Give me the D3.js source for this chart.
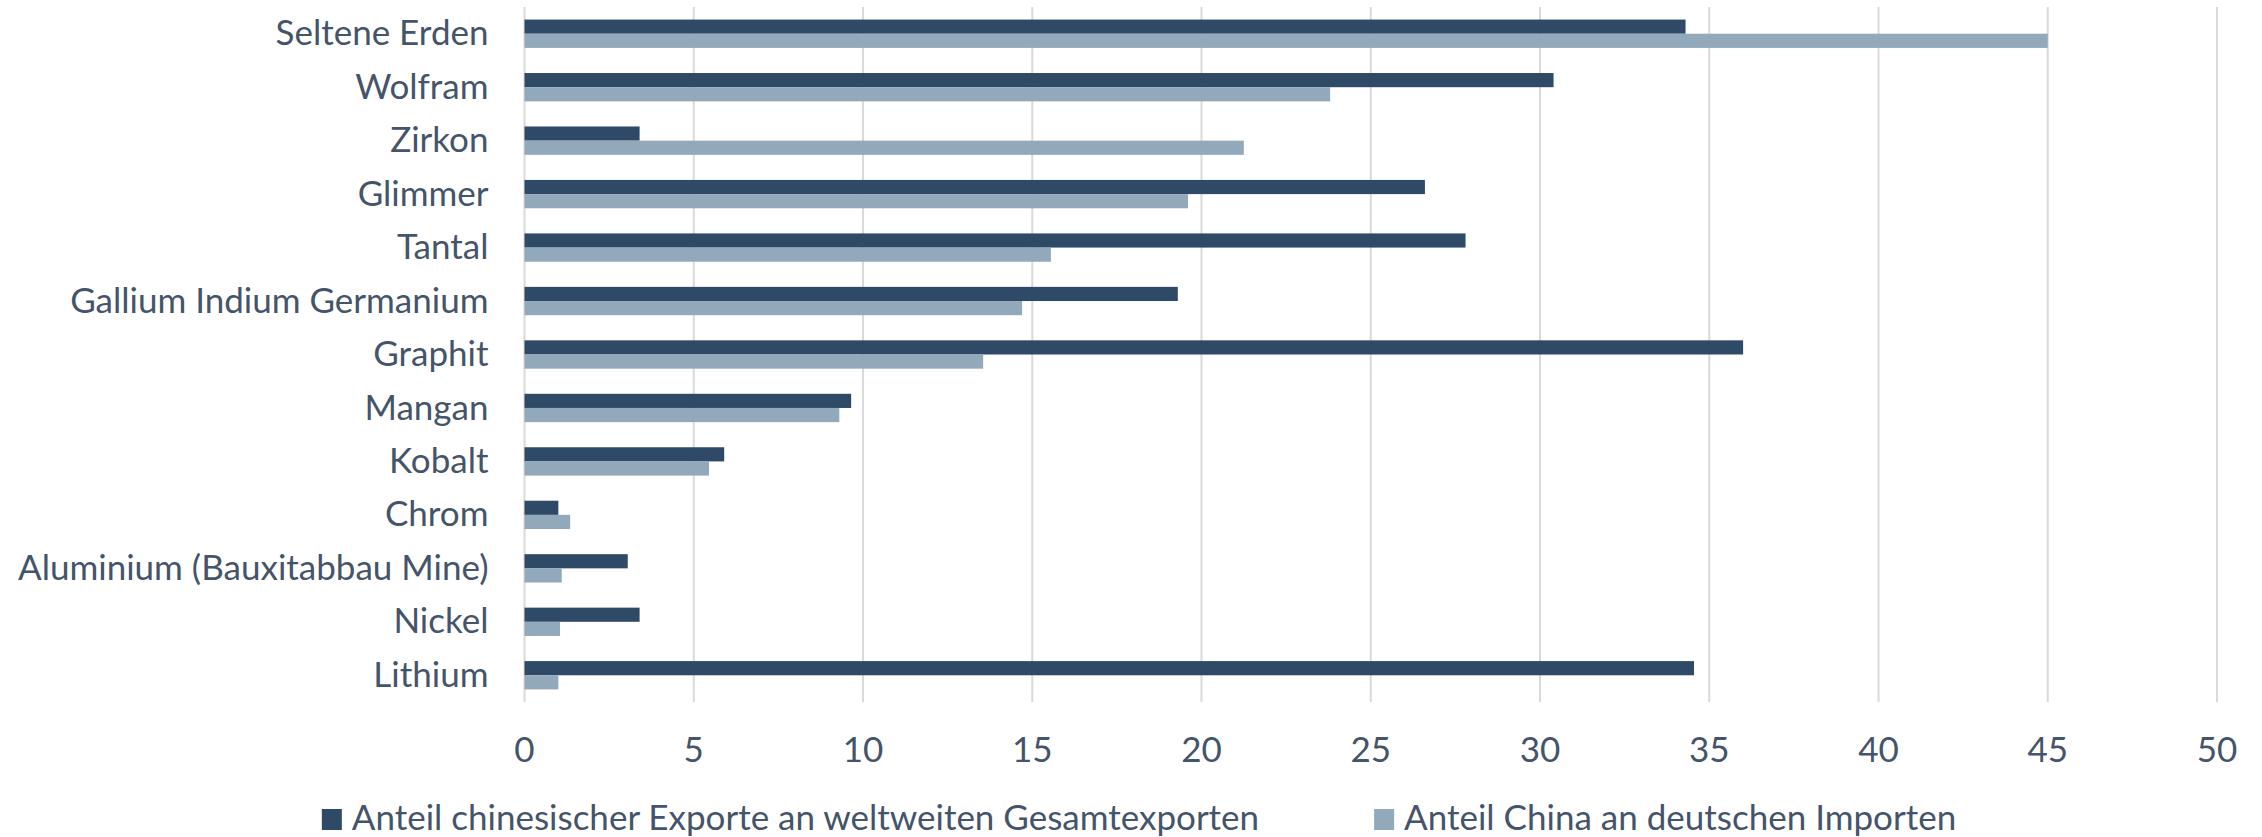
<html>
<head>
<style>
  body { margin: 0; background: #fff; }
  text { font-family: Lato, "Noto Sans", sans-serif; fill: #44546a; }
</style>
</head>
<body>
<script src="https://d3js.org/d3.v7.min.js"></script>
<script>
    var categories = ['Seltene Erden', 'Wolfram', 'Zirkon', 'Glimmer', 'Tantal', 'Gallium Indium Germanium',
        'Graphit', 'Mangan', 'Kobalt', 'Chrom', 'Aluminium (Bauxitabbau Mine)', 'Nickel', 'Lithium'];
    var exportShare = [34.3, 30.4, 3.4, 26.6, 27.8, 19.3, 36.0, 9.65, 5.9, 1.0, 3.05, 3.4, 34.55];
    var importShare = [45.0, 23.8, 21.25, 19.6, 15.55, 14.7, 13.55, 9.3, 5.45, 1.35, 1.1, 1.05, 1.0];
    var seriesNames = ['Anteil chinesischer Exporte an weltweiten Gesamtexporten', 'Anteil China an deutschen Importen'];
    var xTicks = [0, 5, 10, 15, 20, 25, 30, 35, 40, 45, 50];

    var width = 2262, height = 837,
        plotLeft = 524.5, plotRight = 2217, plotTop = 7, plotBottom = 702,
        colors = ['#2e4a66', '#92a8bb'],
        fontSize = 35;

    var x = d3.scaleLinear().domain([0, 50]).range([plotLeft, plotRight]);
    var y = d3.scaleBand().domain(categories).range([plotTop, plotBottom]).paddingInner(0.47).paddingOuter(0.235);
    var sub = d3.scaleBand().domain([0, 1]).range([0, y.bandwidth()]);

    var svg = d3.select('body').append('svg')
        .attr('width', width).attr('height', height);

    // Gitterlinien
    svg.append('g').selectAll('line')
        .data(xTicks)
        .enter().append('line')
        .attr('x1', d => x(d)).attr('x2', d => x(d))
        .attr('y1', plotTop).attr('y2', plotBottom)
        .attr('stroke', '#d9d9d9').attr('stroke-width', 2);

    // Balken
    var series = [exportShare, importShare];
    series.forEach(function (vals, s) {
        svg.append('g').selectAll('rect')
            .data(categories)
            .enter().append('rect')
            .attr('x', x(0))
            .attr('y', d => y(d) + sub(s))
            .attr('width', (d, i) => x(vals[i]) - x(0))
            .attr('height', sub.bandwidth())
            .attr('fill', colors[s]);
    });

    // Kategorien
    svg.append('g').selectAll('text')
        .data(categories)
        .enter().append('text')
        .attr('x', plotLeft - 36)
        .attr('y', d => y(d) + y.bandwidth() / 2)
        .attr('dy', '0.33em')
        .attr('text-anchor', 'end')
        .attr('font-size', fontSize)
        .text(d => d);

    // X-Achse Beschriftung
    svg.append('g').selectAll('text')
        .data(xTicks)
        .enter().append('text')
        .attr('x', d => x(d))
        .attr('y', 762)
        .attr('text-anchor', 'middle')
        .attr('font-size', fontSize)
        .text(d => d);

    // Legende
    var legend = svg.append('g');
    var items = legend.selectAll('g')
        .data(seriesNames)
        .enter().append('g');
    items.append('rect')
        .attr('width', 20).attr('height', 21)
        .attr('y', 809)
        .attr('fill', (d, i) => colors[i]);
    items.append('text')
        .attr('x', 30).attr('y', 830)
        .attr('font-size', fontSize)
        .text(d => d);
    var pos = 0, gap = 115, widths = [];
    items.each(function () { widths.push(this.getBBox().width); });
    var total = d3.sum(widths) + gap;
    pos = 1139 - total / 2;
    items.attr('transform', function (d, i) {
        var t = `translate(${pos},0)`;
        pos += widths[i] + gap;
        return t;
    });
</script>
</body>
</html>
